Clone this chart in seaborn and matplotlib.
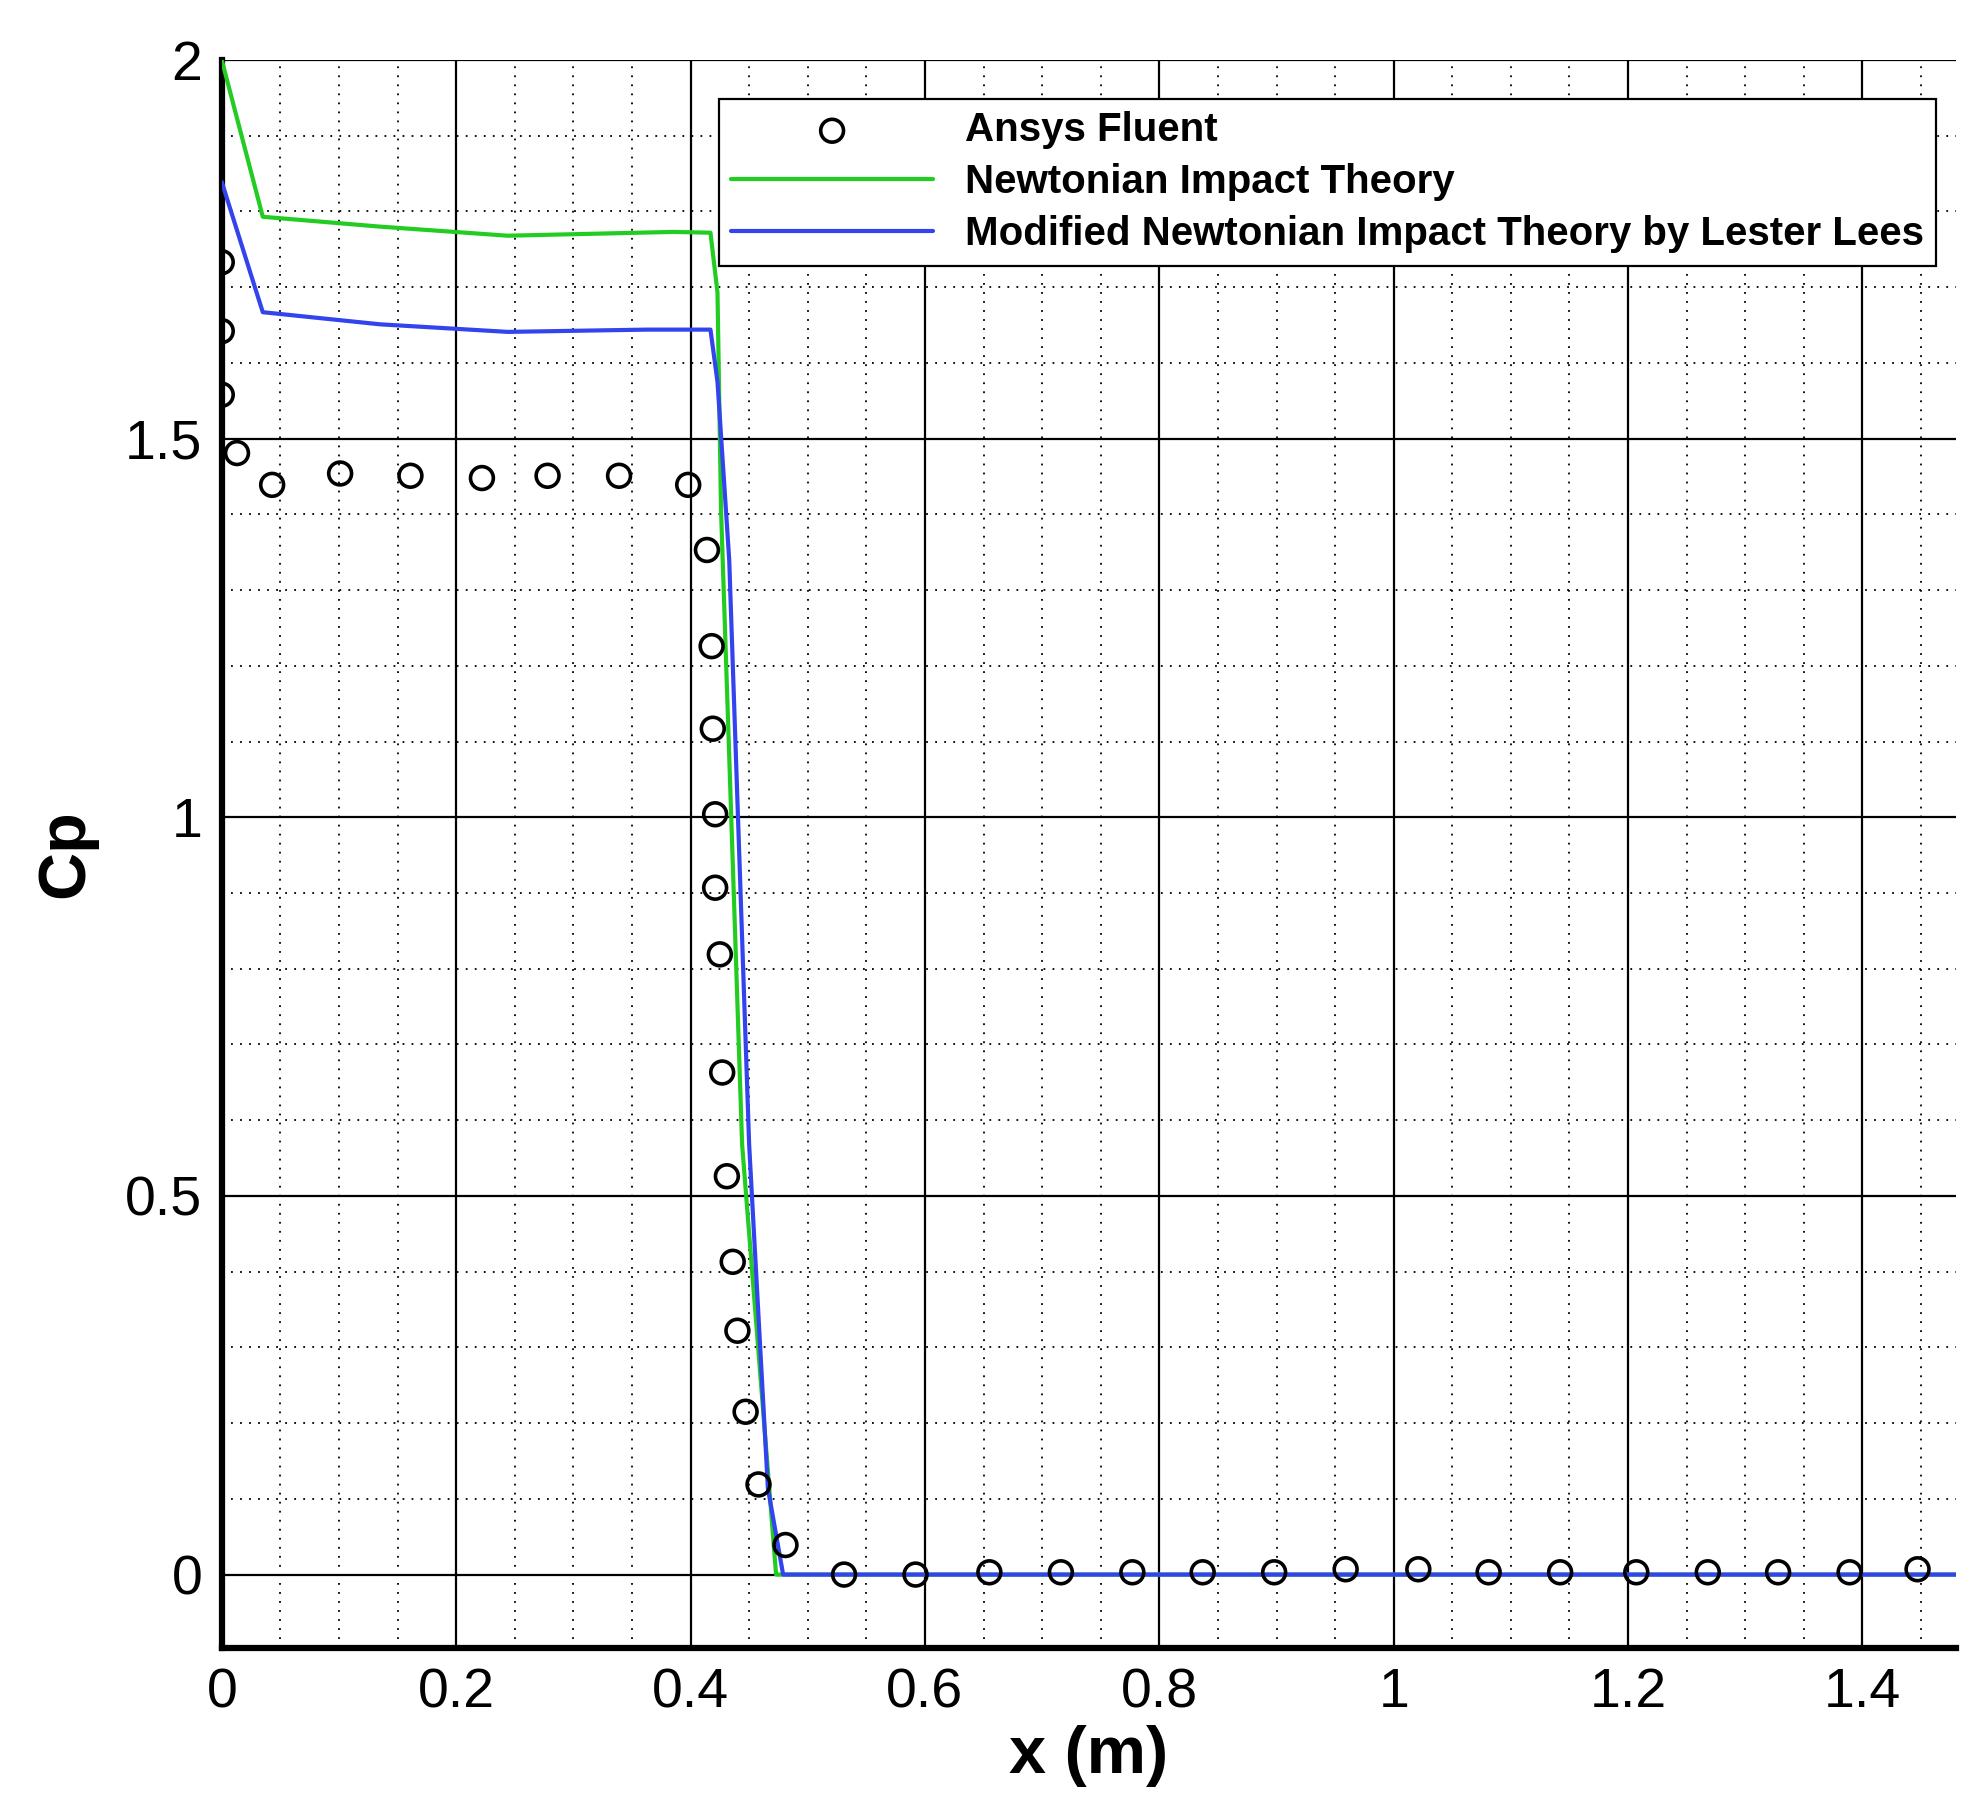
import matplotlib
matplotlib.use("Agg")
import matplotlib.pyplot as plt
from matplotlib.ticker import MultipleLocator
import seaborn as sns

# Ansys Fluent points
fluent_x = [0.0, 0.0, 0.0, 0.013, 0.043, 0.101, 0.161, 0.222, 0.278, 0.339, 0.398,
            0.414, 0.418, 0.419, 0.421, 0.421, 0.425, 0.427, 0.431, 0.436, 0.440,
            0.447, 0.458, 0.481, 0.531, 0.592, 0.655, 0.716, 0.777, 0.837, 0.898,
            0.959, 1.021, 1.081, 1.142, 1.207, 1.268, 1.328, 1.389, 1.447]
fluent_cp = [1.733, 1.642, 1.558, 1.481, 1.439, 1.454, 1.451, 1.448, 1.451, 1.451, 1.439,
             1.353, 1.226, 1.117, 1.004, 0.907, 0.819, 0.663, 0.526, 0.413, 0.322,
             0.215, 0.119, 0.039, 0.0, 0.0, 0.003, 0.003, 0.003, 0.003, 0.003,
             0.007, 0.007, 0.003, 0.003, 0.003, 0.003, 0.003, 0.003, 0.007]

# Newtonian impact theory
newton_x = [0.0, 0.035, 0.135, 0.244, 0.385, 0.417, 0.423, 0.426, 0.444, 0.473, 1.48]
newton_cp = [2.0, 1.793, 1.780, 1.768, 1.773, 1.772, 1.693, 1.407, 0.568, 0.0, 0.0]

# Modified Newtonian (Lester Lees)
lees_x = [0.0, 0.035, 0.135, 0.244, 0.363, 0.417, 0.423, 0.433, 0.450, 0.466, 0.479, 1.48]
lees_cp = [1.839, 1.667, 1.651, 1.641, 1.644, 1.644, 1.575, 1.340, 0.568, 0.114, 0.0, 0.0]

sns.set_style("white")
plt.rcParams['font.family'] = ['Liberation Sans', 'DejaVu Sans']
plt.rcParams['text.color'] = 'black'
plt.rcParams['axes.labelcolor'] = 'black'
plt.rcParams['xtick.color'] = 'black'
plt.rcParams['ytick.color'] = 'black'

fig = plt.figure(figsize=(19.8, 18.19), dpi=100)
ax = fig.add_axes([0.112, 0.094, 0.876, 0.873])

sns.scatterplot(x=fluent_x, y=fluent_cp, ax=ax, marker="o", s=270, facecolors="none",
                edgecolor="black", linewidth=2.6, label="Ansys Fluent", zorder=4)
sns.lineplot(x=newton_x, y=newton_cp, ax=ax, color="#22cc22", linewidth=3,
             label="Newtonian Impact Theory", sort=False, zorder=3)
sns.lineplot(x=lees_x, y=lees_cp, ax=ax, color="#3344ee", linewidth=3,
             label="Modified Newtonian Impact Theory by Lester Lees", sort=False, zorder=3)

ax.set_xlim(0, 1.48)
ax.set_ylim(-0.097, 2.0)
ax.xaxis.set_minor_locator(MultipleLocator(0.05))
ax.yaxis.set_minor_locator(MultipleLocator(0.1))
ax.set_xticks([0, 0.2, 0.4, 0.6, 0.8, 1.0, 1.2, 1.4])
ax.set_xticklabels(["0", "0.2", "0.4", "0.6", "0.8", "1", "1.2", "1.4"])
ax.set_yticks([0, 0.5, 1.0, 1.5, 2.0])
ax.set_yticklabels(["0", "0.5", "1", "1.5", "2"])

ax.grid(which="major", color="black", linewidth=1.6, linestyle="-")
ax.grid(which="minor", color="black", linewidth=1.3, linestyle=(0, (1, 4)))

for s in ["top", "right"]:
    ax.spines[s].set_visible(False)
for s in ["left", "bottom"]:
    ax.spines[s].set_linewidth(4.5)
    ax.spines[s].set_color("black")

ax.tick_params(which="major", direction="in", length=30, width=4.5, labelsize=40, pad=14)
ax.tick_params(which="minor", direction="in", length=14, width=2)

ax.set_xlabel("x (m)", fontsize=48, fontweight="bold", labelpad=4)
ax.set_ylabel("Cp", fontsize=48, fontweight="bold", labelpad=20)

leg = ax.legend(loc="upper right", bbox_to_anchor=(1.0, 0.988), fontsize=29,
                frameon=True, fancybox=False, edgecolor="black", framealpha=1,
                handlelength=5, borderpad=0.3, labelspacing=0.35, handletextpad=0.8)
leg.get_frame().set_linewidth(1.6)
for t in leg.get_texts():
    t.set_fontweight("bold")

fig.savefig("out.png", dpi=100)
